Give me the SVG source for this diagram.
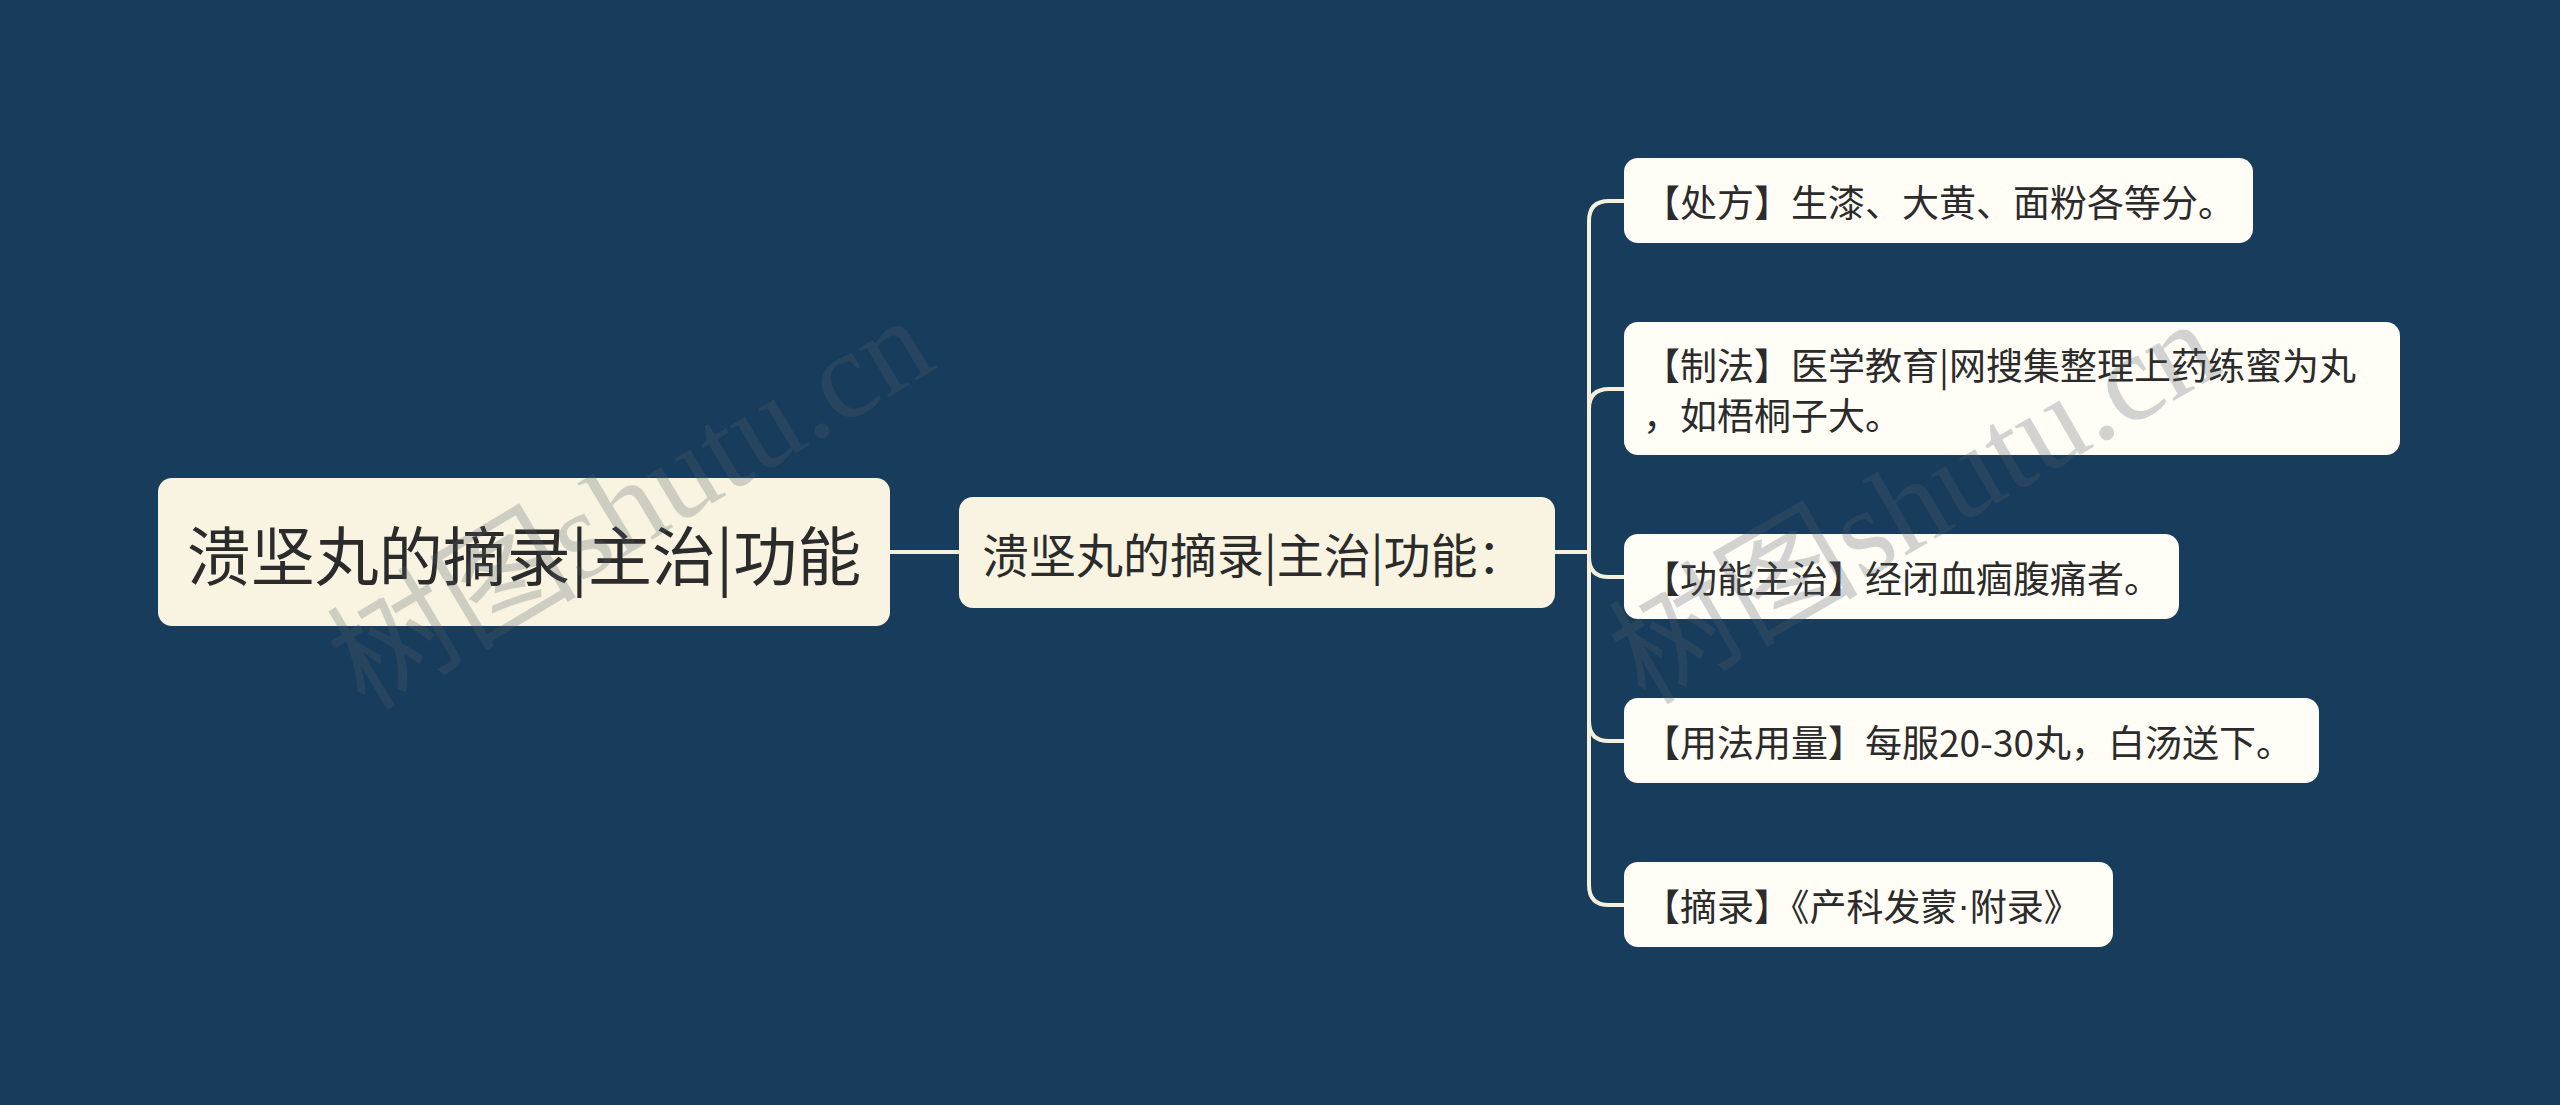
<svg xmlns="http://www.w3.org/2000/svg" width="2560" height="1105" viewBox="0 0 2560 1105">
<style>
.bg{fill:#173c5c}
.root{fill:#f8f4e1}
.leaf{fill:#fffdf6}
.t{font-family:"Noto Sans CJK SC","Noto Sans",sans-serif;fill:#2b2b2b;dominant-baseline:central}
.c{fill:none;stroke:#f4f0dc;stroke-width:4;stroke-linecap:round}
.wm{font-family:"Liberation Serif","Noto Sans CJK SC",serif;fill:#56606a;opacity:0.26}
.dot{font-family:"Liberation Sans",sans-serif}
</style>
<rect class="bg" x="0" y="0" width="2560" height="1105"/>
<g id="connectors">
<path class="c" d="M890,552 H959"/>
<path class="c" d="M1555,552 H1589 V221 Q1589,201 1609,201 H1624"/>
<path class="c" d="M1555,552 H1589 V409 Q1589,389 1609,389 H1624"/>
<path class="c" d="M1555,552 H1589 V557 Q1589,577 1609,577 H1624"/>
<path class="c" d="M1555,552 H1589 V721 Q1589,741 1609,741 H1624"/>
<path class="c" d="M1555,552 H1589 V885 Q1589,905 1609,905 H1624"/>
</g>
<g id="root">
<rect class="root" x="158" y="478" width="732" height="148" rx="14"/>
<text class="t" x="524" y="552" font-size="64" text-anchor="middle">溃坚丸的摘录|主治|功能</text>
</g>
<g id="mid">
<rect class="root" x="959" y="497" width="596" height="111" rx="14"/>
<text class="t" x="982" y="552" font-size="47">溃坚丸的摘录|主治|功能：</text>
</g>
<g id="n1">
<rect class="leaf" x="1624" y="158" width="629" height="85" rx="14"/>
<text class="t" x="1643" y="201" font-size="37">【处方】生漆、大黄、面粉各等分。</text>
</g>
<g id="n2">
<rect class="leaf" x="1624" y="322" width="776" height="133" rx="14"/>
<text class="t" x="1643" y="364" font-size="37">【制法】医学教育|网搜集整理上药练蜜为丸</text>
<text class="t" x="1643" y="414" font-size="37">，如梧桐子大。</text>
</g>
<g id="n3">
<rect class="leaf" x="1624" y="534" width="555" height="85" rx="14"/>
<text class="t" x="1643" y="577" font-size="37">【功能主治】经闭血痼腹痛者。</text>
</g>
<g id="n4">
<rect class="leaf" x="1624" y="698" width="695" height="85" rx="14"/>
<text class="t" x="1643" y="741" font-size="37">【用法用量】每服20-30丸，白汤送下。</text>
</g>
<g id="n5">
<rect class="leaf" x="1624" y="862" width="489" height="85" rx="14"/>
<text class="t" x="1643" y="905" font-size="37">【摘录】《产科发蒙<tspan class="dot">·</tspan>附录》</text>
</g>
<g id="watermarks">
<text class="wm" x="0" y="0" font-size="125" transform="translate(365,712) rotate(-31)">树图shutu.cn</text>
<text class="wm" x="0" y="0" font-size="125" transform="translate(1645,706) rotate(-30)">树图shutu.cn</text>
</g>
</svg>
